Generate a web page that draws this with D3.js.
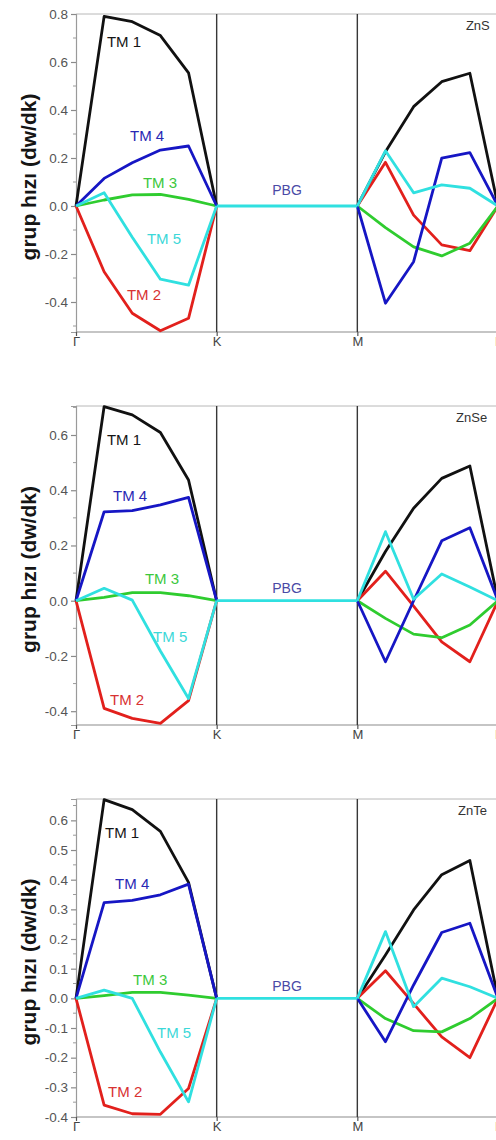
<!DOCTYPE html>
<html>
<head>
<meta charset="utf-8">
<script src="https://cdn.jsdelivr.net/npm/d3@7"></script>
<style>
  html, body { margin: 0; padding: 0; background: #fff; }
  svg { display: block; }
  text { font-family: "Liberation Sans", Arial, sans-serif; }
</style>
</head>
<body>
<script>
// High-symmetry path and mode names
const kPoints = ["Γ", "K", "M", "Γ"];
const kIndex = [0, 5, 10, 15];
const modes = ["TM 1", "TM 2", "TM 3", "TM 4", "TM 5"];
const materials = ["ZnS", "ZnSe", "ZnTe"];

// Group velocity along Γ–K (6 points) and M–Γ (6 points), per mode TM1..TM5
const znsGK = [
  [0, 0.79, 0.768, 0.71, 0.555, 0],
  [0, -0.274, -0.447, -0.52, -0.468, 0],
  [0, 0.025, 0.046, 0.048, 0.028, 0],
  [0, 0.115, 0.18, 0.233, 0.25, 0],
  [0, 0.055, -0.13, -0.305, -0.33, 0]
];
const znsMG = [
  [0, 0.226, 0.414, 0.518, 0.553, 0],
  [0, 0.182, -0.038, -0.162, -0.186, 0],
  [0, -0.09, -0.17, -0.208, -0.155, 0],
  [0, -0.405, -0.232, 0.199, 0.222, 0],
  [0, 0.23, 0.055, 0.088, 0.074, 0]
];
const znseGK = [
  [0, 0.703, 0.673, 0.609, 0.437, 0],
  [0, -0.39, -0.426, -0.444, -0.362, 0],
  [0, 0.012, 0.029, 0.029, 0.018, 0],
  [0, 0.322, 0.326, 0.347, 0.374, 0],
  [0, 0.045, 0.002, -0.182, -0.354, 0]
];
const znseMG = [
  [0, 0.178, 0.335, 0.443, 0.488, 0],
  [0, 0.107, -0.02, -0.149, -0.221, 0],
  [0, -0.064, -0.121, -0.134, -0.088, 0],
  [0, -0.221, 0.0, 0.217, 0.264, 0],
  [0, 0.25, 0.005, 0.097, 0.05, 0]
];
const znteGK = [
  [0, 0.67, 0.636, 0.563, 0.391, 0],
  [0, -0.36, -0.389, -0.391, -0.304, 0],
  [0, 0.009, 0.02, 0.02, 0.011, 0],
  [0, 0.323, 0.33, 0.349, 0.385, 0],
  [0, 0.028, 0, -0.181, -0.349, 0]
];
const znteMG = [
  [0, 0.146, 0.298, 0.417, 0.465, 0],
  [0, 0.093, -0.018, -0.13, -0.2, 0],
  [0, -0.068, -0.109, -0.113, -0.068, 0],
  [0, -0.146, 0.045, 0.222, 0.253, 0],
  [0, 0.225, -0.028, 0.068, 0.039, 0]
];
// Photonic band gap: flat zero velocity between K and M
const gapK = [5, 10];
const gapV = [0, 0];

// Y tick values per panel
const znsTicks = [-0.4, -0.2, 0.0, 0.2, 0.4, 0.6, 0.8];
const znseTicks = [-0.4, -0.2, 0.0, 0.2, 0.4, 0.6];
const znteTicks = [-0.4, -0.3, -0.2, -0.1, 0.0, 0.1, 0.2, 0.3, 0.4, 0.5, 0.6];

const W = 496, H = 1140;
const svg = d3.select("body").append("svg").attr("width", W).attr("height", H);

const lineColors = ["#111111", "#e2201c", "#2fcc2f", "#1616c4", "#30e0e0"];
const textColors = ["#151515", "#d83232", "#3cc83c", "#2828b4", "#3cd8d8"];
const drawOrder = [0, 1, 2, 3, 4];

const panels = [
  { name: materials[0], gk: znsGK, mg: znsMG, ticks: znsTicks, minorStep: 0.1,
    domain: [-0.525, 0.8], top: 14, bottom: 332,
    labels: [[1.10, 0.662], [1.81, -0.392], [2.38, 0.075], [1.92, 0.271], [2.52, -0.158]],
    pbg: 0.046, tag: [13.86, 0.733] },
  { name: materials[1], gk: znseGK, mg: znseMG, ticks: znseTicks, minorStep: 0.1,
    domain: [-0.45, 0.705], top: 406, bottom: 725,
    labels: [[1.10, 0.564], [1.21, -0.378], [2.45, 0.06], [1.315, 0.361], [2.74, -0.15]],
    pbg: 0.028, tag: [13.51, 0.647] },
  { name: materials[2], gk: znteGK, mg: znteMG, ticks: znteTicks, minorStep: 0.05,
    domain: [-0.4, 0.672], top: 799, bottom: 1117,
    labels: [[1.03, 0.542], [1.14, -0.334], [2.03, 0.045], [1.39, 0.369], [2.88, -0.134]],
    pbg: 0.025, tag: [13.58, 0.617] }
];

const x = d3.scaleLinear().domain([0, 15]).range([76, 498]);
const fmt = v => (Math.abs(v) < 1e-9 ? "0.0" : v.toFixed(1));

panels.forEach(p => {
  const y = d3.scaleLinear().domain(p.domain).range([p.bottom, p.top]);
  const g = svg.append("g");

  // frame: top edge
  g.append("line").attr("x1", x(0)).attr("x2", 498)
    .attr("y1", p.top).attr("y2", p.top)
    .attr("stroke", "#b8b8b8").attr("stroke-width", 1);

  // y axis with major ticks
  const yAxis = d3.axisLeft(y).tickValues(p.ticks).tickFormat(fmt).tickSize(5).tickPadding(3);
  const ya = g.append("g").attr("transform", `translate(${x(0)},0)`).call(yAxis);
  ya.select(".domain").attr("stroke", "#9a9a9a").attr("stroke-width", 1.2);
  ya.selectAll(".tick line").attr("stroke", "#8a8a8a").attr("stroke-width", 1.2);
  ya.selectAll(".tick text").attr("fill", "#555").style("font-size", "13.5px")
    .style("font-family", "'Liberation Sans', Arial, sans-serif");

  // minor ticks
  const lo = Math.ceil(p.domain[0] / p.minorStep - 1e-6);
  const hi = Math.floor(p.domain[1] / p.minorStep + 1e-6);
  const minor = d3.range(lo, hi + 1).map(i => +(i * p.minorStep).toFixed(3))
    .filter(v => !p.ticks.some(t => Math.abs(t - v) < 1e-6));
  g.selectAll(".minor").data(minor).join("line")
    .attr("x1", x(0) - 3).attr("x2", x(0))
    .attr("y1", d => y(d)).attr("y2", d => y(d))
    .attr("stroke", "#9a9a9a").attr("stroke-width", 1);

  // x axis: bottom line, Γ K M Γ labels
  g.append("line").attr("x1", x(0)).attr("x2", 498)
    .attr("y1", p.bottom).attr("y2", p.bottom)
    .attr("stroke", "#8c8c8c").attr("stroke-width", 1.2);
  const xAxis = d3.axisBottom(x).tickValues(kIndex).tickFormat((d, i) => kPoints[i])
    .tickSize(4).tickPadding(1);
  const xa = g.append("g").attr("transform", `translate(0,${p.bottom})`).call(xAxis);
  xa.select(".domain").remove();
  xa.selectAll(".tick line").attr("stroke", "#555").attr("stroke-width", 1.2);
  xa.selectAll(".tick text").attr("fill", "#444").style("font-size", "13px")
    .style("font-family", "'Liberation Sans', Arial, sans-serif");

  // vertical lines at K and M
  g.selectAll(".sym").data([kIndex[1], kIndex[2]]).join("line")
    .attr("x1", d => x(d)).attr("x2", d => x(d))
    .attr("y1", p.top).attr("y2", p.bottom)
    .attr("stroke", "#383838").attr("stroke-width", 1.4);

  const line = d3.line().x(d => x(d[0])).y(d => y(d[1]));

  // band curves
  drawOrder.forEach(m => {
    const gk = p.gk[m].map((v, i) => [kIndex[0] + i, v]);
    const mg = p.mg[m].map((v, i) => [kIndex[2] + i, v]);
    [gk, mg].forEach(seg => {
      g.append("path").attr("d", line(seg)).attr("fill", "none")
        .attr("stroke", lineColors[m]).attr("stroke-width", 2.8)
        .attr("stroke-linejoin", "round");
    });
  });

  // band gap segment
  g.append("path").attr("d", line(gapK.map((k, i) => [k, gapV[i]])))
    .attr("fill", "none").attr("stroke", lineColors[4]).attr("stroke-width", 2.8);

  // mode labels
  modes.forEach((name, m) => {
    g.append("text").attr("x", x(p.labels[m][0])).attr("y", y(p.labels[m][1]))
      .attr("fill", textColors[m]).style("font-size", "15px").text(name);
  });

  g.append("text").attr("x", x(7.5)).attr("y", y(p.pbg)).attr("text-anchor", "middle")
    .attr("fill", "#4a4aa6").style("font-size", "14px").text("PBG");

  g.append("text").attr("x", x(p.tag[0])).attr("y", y(p.tag[1]))
    .attr("fill", "#333").style("font-size", "13px").text(p.name);

  // y axis title
  g.append("text")
    .attr("transform", `translate(36,${(p.top + p.bottom) / 2 + 4}) rotate(-90)`)
    .attr("text-anchor", "middle").attr("fill", "#151515")
    .style("font-size", "21px").style("font-weight", "bold")
    .text("grup hızı (dw/dk)");
});
</script>
</body>
</html>
